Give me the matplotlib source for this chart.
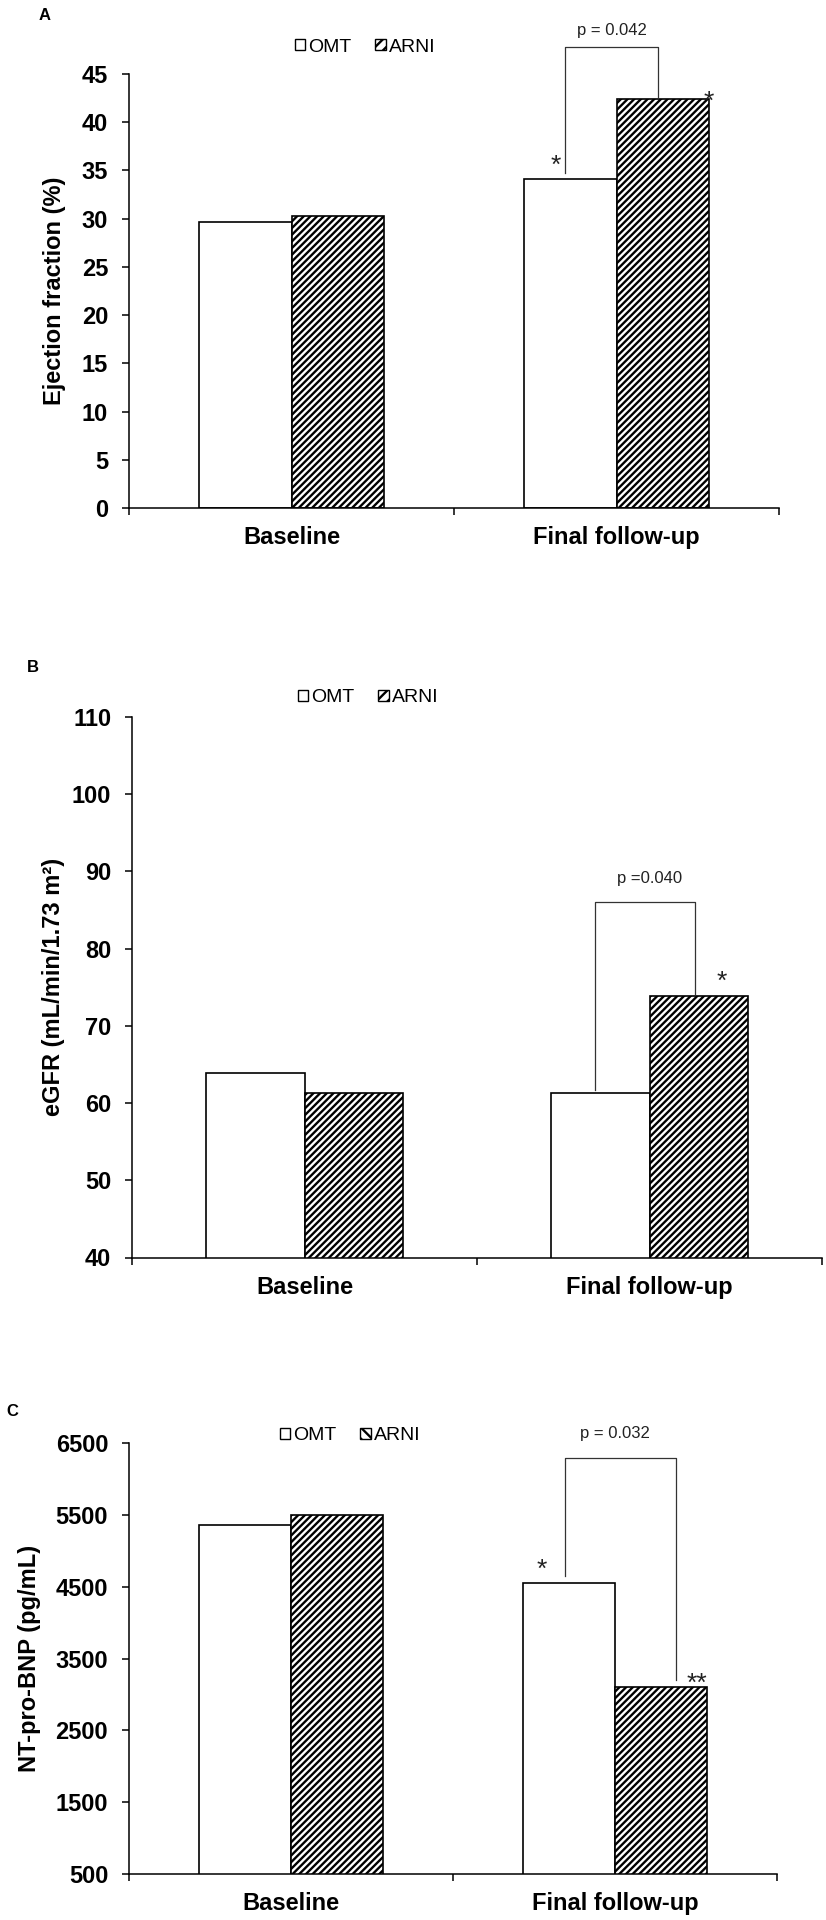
import numpy as np
import matplotlib
matplotlib.use("Agg")
from matplotlib import pyplot as plt
from matplotlib.patches import Patch

plt.rcParams['font.family'] = ['Liberation Sans', 'DejaVu Sans']
plt.rcParams['hatch.linewidth'] = 1.7

groups = ["Baseline", "Final follow-up"]
series = ["OMT", "ARNI"]

# panel A - ejection fraction (%)
ef_omt = [29.7, 34.1]
ef_arni = [30.3, 42.4]
ef_ticks = [0, 5, 10, 15, 20, 25, 30, 35, 40, 45]
ef_bracket = [47.8, 34.7, 42.6]          # top, left leg end, right leg end
ef_bracket_x = [-0.157, 0.129]
ef_p = ["p = 0.042", -0.015, 49.5]
ef_stars = [["*", -0.188, 36.3], ["*", 0.283, 43.0]]

# panel B - eGFR
egfr_omt = [63.9, 61.3]
egfr_arni = [61.3, 73.9]
egfr_ticks = [40, 50, 60, 70, 80, 90, 100, 110]
egfr_bracket = [86.0, 61.7, 74.1]
egfr_bracket_x = [-0.159, 0.133]
egfr_p = ["p =0.040", 0.0, 89.1]
egfr_stars = [["*", 0.209, 76.8]]

# panel C - NT-pro-BNP
bnp_omt = [5360, 4550]
bnp_arni = [5500, 3100]
bnp_ticks = [500, 1500, 2500, 3500, 4500, 5500, 6500]
bnp_bracket = [6286, 4649, 3198]
bnp_bracket_x = [-0.154, 0.188]
bnp_p = ["p = 0.032", 0.0, 6630]
bnp_stars = [["*", -0.225, 4846], ["**", 0.253, 3268]]

W, H = 826, 1920
fig = plt.figure(figsize=(W / 100, H / 100), dpi=100)


def px_axes(left, right, top, bottom):
    return fig.add_axes([left / W, 1 - bottom / H, (right - left) / W, (bottom - top) / H])


def panel(ax, omt, arni, ticks, ylabel, label_x, bracket, bracket_x, ptext, stars):
    x = np.arange(len(groups))
    w = 0.285
    ax.bar(x - w / 2, omt, w, color="white", edgecolor="black", linewidth=1.2)
    ax.bar(x + w / 2, arni, w, color="white", edgecolor="black", linewidth=1.2, hatch="/////")
    ax.set_ylim(ticks[0], ticks[-1])
    ax.set_xlim(-0.5, len(groups) - 0.5)
    ax.set_yticks(ticks)
    ax.set_yticklabels([str(t) for t in ticks], fontsize=17, fontweight="bold")
    ax.set_xticks([-0.5, 0.5, 1.5])
    ax.set_xticklabels([])
    ax.set_xticks(x, minor=True)
    ax.set_xticklabels(groups, minor=True, fontsize=17, fontweight="bold")
    ax.tick_params(axis="x", which="minor", length=0, pad=13)
    ax.tick_params(axis="both", which="major", direction="out", length=5, width=1.1, pad=10)
    for s in ["top", "right"]:
        ax.spines[s].set_visible(False)
    for s in ["left", "bottom"]:
        ax.spines[s].set_linewidth(1.1)
    ax.set_ylabel(ylabel, fontsize=17, fontweight="bold", va="center")
    ax.yaxis.set_label_coords(label_x, 0.5)

    # significance bracket on the follow-up group
    xl = 1 + bracket_x[0]
    xr = 1 + bracket_x[1]
    ax.plot([xl, xl, xr, xr], [bracket[1], bracket[0], bracket[0], bracket[2]],
            color="#333333", linewidth=0.9, clip_on=False)
    ax.text(1 + ptext[1], ptext[2], ptext[0], fontsize=12, ha="center", va="center",
            color="#222222", clip_on=False)
    for s, dx, yv in stars:
        ax.annotate(s, (1 + dx, yv), xytext=(0, -11), textcoords="offset points",
                    fontsize=19, ha="center", va="baseline", color="#222222",
                    annotation_clip=False)


axA = px_axes(129, 779, 74, 508)
panel(axA, ef_omt, ef_arni, ef_ticks, "Ejection fraction (%)", -0.114,
      ef_bracket, ef_bracket_x, ef_p, ef_stars)

axB = px_axes(132, 822, 717, 1257.5)
panel(axB, egfr_omt, egfr_arni, egfr_ticks, "eGFR (mL/min/1.73 m²)", -0.114,
      egfr_bracket, egfr_bracket_x, egfr_p, egfr_stars)

axC = px_axes(129, 777, 1443, 1874)
panel(axC, bnp_omt, bnp_arni, bnp_ticks, "NT-pro-BNP (pg/mL)", -0.153,
      bnp_bracket, bnp_bracket_x, bnp_p, bnp_stars)

# legends
legend_pos = [[365, 47, "///"], [368, 698, "///"], [350, 1436, "\\\\\\"]]
for cx, cy, h in legend_pos:
    handles = [Patch(facecolor="white", edgecolor="black", linewidth=1.0, label=series[0]),
               Patch(facecolor="white", edgecolor="black", linewidth=1.0, hatch=h, label=series[1])]
    fig.legend(handles=handles, loc="center", bbox_to_anchor=(cx / W, 1 - cy / H),
               ncol=2, frameon=False, fontsize=14, handlelength=0.55, handleheight=0.55,
               handletextpad=0.15, columnspacing=1.2, borderpad=0)

# panel letters
for letter, lx, ly in [["A", 45, 15], ["B", 33, 667], ["C", 12, 1411]]:
    fig.text(lx / W, 1 - ly / H, letter, fontsize=12, fontweight="bold", ha="center", va="center")

fig.savefig("out.png", dpi=100, facecolor="white")
